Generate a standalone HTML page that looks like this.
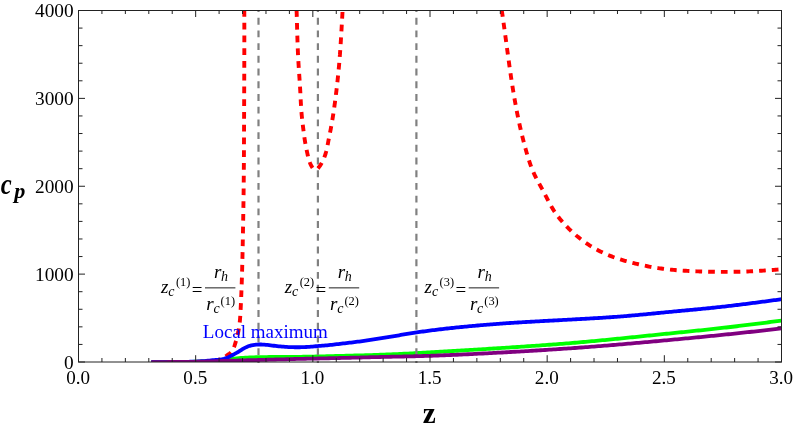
<!DOCTYPE html>
<html><head><meta charset="utf-8"><title>plot</title>
<style>
html,body{margin:0;padding:0;background:#fff;}
#c{will-change:transform;position:relative;width:793px;height:430px;overflow:hidden;background:#fff;font-family:"Liberation Serif",serif;}
.t text{font-family:"Liberation Serif",serif;}
</style></head><body><div id="c">
<svg width="793" height="430" viewBox="0 0 793 430" style="position:absolute;left:0;top:0"><defs><clipPath id="cp"><rect x="78.5" y="10.5" width="703.0" height="351.5"/></clipPath></defs><g clip-path="url(#cp)" fill="none" stroke-linejoin="round"><path d="M151.30,362.10 L153.44,362.08 L155.58,362.06 L157.73,362.04 L159.87,362.03 L162.01,362.03 L164.15,362.02 L166.29,362.02 L168.44,362.02 L170.58,362.01 L172.72,362.01 L174.87,362.00 L177.01,361.99 L179.15,361.98 L181.29,361.96 L183.44,361.94 L185.58,361.91 L187.72,361.88 L189.86,361.84 L192.00,361.79 L194.14,361.73 L196.29,361.66 L198.43,361.58 L200.57,361.49 L202.71,361.39 L204.85,361.29 L206.99,361.17 L209.13,361.05 L211.26,360.92 L213.40,360.79 L215.54,360.64 L217.68,360.48 L219.81,360.30 L221.95,360.11 L224.08,359.90 L226.21,359.66 L228.34,359.41 L230.46,359.15 L232.59,358.89 L234.72,358.64 L236.84,358.40 L238.98,358.19 L241.11,358.00 L243.24,357.84 L245.38,357.69 L247.52,357.57 L249.66,357.47 L251.80,357.38 L253.95,357.31 L256.09,357.25 L258.23,357.19 L260.38,357.15 L262.52,357.11 L264.66,357.07 L266.80,357.04 L268.95,357.01 L271.09,356.99 L273.23,356.97 L275.37,356.96 L277.52,356.94 L279.66,356.93 L281.80,356.92 L283.94,356.91 L286.08,356.90 L288.23,356.89 L290.37,356.88 L292.51,356.86 L294.65,356.85 L296.79,356.83 L298.93,356.81 L301.08,356.78 L303.22,356.75 L305.36,356.72 L307.50,356.68 L309.64,356.64 L311.79,356.60 L313.93,356.56 L316.07,356.51 L318.21,356.46 L320.35,356.41 L322.49,356.36 L324.64,356.30 L326.78,356.25 L328.92,356.19 L331.06,356.14 L333.20,356.08 L335.35,356.02 L337.49,355.97 L339.63,355.91 L341.77,355.85 L343.91,355.80 L346.05,355.74 L348.20,355.69 L350.34,355.63 L352.48,355.58 L354.62,355.52 L356.76,355.46 L358.90,355.41 L361.05,355.35 L363.19,355.29 L365.33,355.23 L367.47,355.17 L369.61,355.10 L371.75,355.04 L373.89,354.97 L376.04,354.90 L378.18,354.83 L380.32,354.76 L382.46,354.68 L384.60,354.60 L386.74,354.52 L388.88,354.43 L391.02,354.34 L393.16,354.25 L395.30,354.15 L397.44,354.05 L399.58,353.95 L401.72,353.85 L403.86,353.74 L406.00,353.64 L408.14,353.53 L410.28,353.41 L412.42,353.30 L414.56,353.19 L416.70,353.07 L418.84,352.96 L420.98,352.84 L423.12,352.72 L425.25,352.61 L427.39,352.49 L429.53,352.37 L431.67,352.25 L433.81,352.13 L435.95,352.01 L438.09,351.88 L440.23,351.76 L442.37,351.64 L444.50,351.51 L446.64,351.39 L448.78,351.26 L450.92,351.14 L453.06,351.01 L455.20,350.88 L457.34,350.75 L459.47,350.63 L461.61,350.50 L463.75,350.37 L465.89,350.24 L468.03,350.11 L470.17,349.97 L472.30,349.84 L474.44,349.71 L476.58,349.58 L478.72,349.45 L480.86,349.31 L483.00,349.18 L485.13,349.04 L487.27,348.91 L489.41,348.77 L491.55,348.64 L493.69,348.50 L495.82,348.37 L497.96,348.23 L500.10,348.09 L502.24,347.96 L504.38,347.82 L506.51,347.68 L508.65,347.54 L510.79,347.40 L512.93,347.26 L515.07,347.12 L517.20,346.98 L519.34,346.84 L521.48,346.70 L523.62,346.56 L525.75,346.41 L527.89,346.27 L530.03,346.12 L532.17,345.97 L534.30,345.83 L536.44,345.68 L538.58,345.53 L540.72,345.38 L542.85,345.22 L544.99,345.07 L547.13,344.91 L549.26,344.76 L551.40,344.60 L553.54,344.44 L555.67,344.27 L557.81,344.11 L559.94,343.95 L562.08,343.78 L564.22,343.61 L566.35,343.44 L568.49,343.27 L570.62,343.09 L572.76,342.92 L574.89,342.74 L577.03,342.56 L579.16,342.37 L581.29,342.19 L583.43,342.00 L585.56,341.81 L587.70,341.62 L589.83,341.42 L591.96,341.23 L594.10,341.03 L596.23,340.83 L598.36,340.63 L600.49,340.43 L602.63,340.22 L604.76,340.02 L606.89,339.81 L609.02,339.60 L611.15,339.39 L613.29,339.18 L615.42,338.97 L617.55,338.76 L619.68,338.54 L621.81,338.33 L623.94,338.11 L626.08,337.90 L628.21,337.68 L630.34,337.46 L632.47,337.25 L634.60,337.03 L636.73,336.81 L638.86,336.59 L641.00,336.37 L643.13,336.15 L645.26,335.93 L647.39,335.71 L649.52,335.49 L651.65,335.27 L653.78,335.05 L655.91,334.84 L658.05,334.62 L660.18,334.40 L662.31,334.18 L664.44,333.97 L666.57,333.75 L668.70,333.53 L670.83,333.32 L672.97,333.10 L675.10,332.89 L677.23,332.68 L679.36,332.46 L681.49,332.25 L683.62,332.03 L685.76,331.82 L687.89,331.60 L690.02,331.38 L692.15,331.17 L694.28,330.95 L696.41,330.73 L698.54,330.51 L700.67,330.29 L702.80,330.06 L704.93,329.84 L707.07,329.61 L709.20,329.39 L711.33,329.16 L713.46,328.92 L715.58,328.69 L717.71,328.46 L719.84,328.22 L721.97,327.98 L724.10,327.73 L726.23,327.49 L728.36,327.24 L730.48,326.99 L732.61,326.74 L734.74,326.49 L736.87,326.24 L738.99,325.98 L741.12,325.72 L743.25,325.46 L745.37,325.20 L747.50,324.94 L749.62,324.67 L751.75,324.41 L753.88,324.14 L756.00,323.87 L758.13,323.60 L760.25,323.33 L762.38,323.06 L764.50,322.79 L766.63,322.52 L768.75,322.25 L770.88,321.97 L773.00,321.70 L775.13,321.42 L777.25,321.15 L779.38,320.87 L781.50,320.60 L783.63,320.32 L785.75,320.05 L787.88,319.77 L790.00,319.50" stroke="#00ff00" stroke-width="3.8"/></g><g stroke="#808080" stroke-width="2.2" stroke-dasharray="6.9 5.81" stroke-dashoffset="4.81" fill="none"><path d="M258.5,363 L258.5,10.5"/><path d="M317.9,363 L317.9,10.5"/><path d="M416.4,363 L416.4,10.5"/></g><g clip-path="url(#cp)" fill="none" stroke-linejoin="round"><path d="M244.30,10.50 L244.30,11.72 L244.31,12.94 L244.31,14.16 L244.32,15.38 L244.32,16.60 L244.32,17.82 L244.32,19.04 L244.33,20.26 L244.33,21.48 L244.33,22.70 L244.33,23.92 L244.33,25.14 L244.34,26.36 L244.34,27.58 L244.34,28.80 L244.34,30.02 L244.34,31.24 L244.34,32.46 L244.34,33.68 L244.34,34.89 L244.34,36.11 L244.34,37.33 L244.34,38.55 L244.34,39.77 L244.33,40.99 L244.33,42.21 L244.33,43.43 L244.33,44.65 L244.33,45.87 L244.33,47.09 L244.33,48.31 L244.32,49.53 L244.32,50.75 L244.32,51.97 L244.32,53.19 L244.31,54.41 L244.31,55.63 L244.31,56.85 L244.30,58.07 L244.30,59.29 L244.30,60.51 L244.30,61.73 L244.29,62.95 L244.29,64.17 L244.28,65.39 L244.28,66.61 L244.28,67.83 L244.27,69.05 L244.27,70.27 L244.27,71.49 L244.26,72.71 L244.26,73.93 L244.25,75.15 L244.25,76.37 L244.25,77.59 L244.24,78.81 L244.24,80.03 L244.23,81.24 L244.23,82.46 L244.22,83.68 L244.22,84.90 L244.21,86.12 L244.21,87.34 L244.21,88.56 L244.20,89.78 L244.20,91.00 L244.19,92.22 L244.19,93.44 L244.18,94.66 L244.18,95.88 L244.17,97.10 L244.17,98.32 L244.16,99.54 L244.16,100.76 L244.16,101.98 L244.15,103.20 L244.15,104.42 L244.14,105.64 L244.14,106.86 L244.13,108.08 L244.13,109.30 L244.12,110.52 L244.12,111.74 L244.11,112.96 L244.11,114.18 L244.10,115.40 L244.10,116.62 L244.09,117.84 L244.09,119.06 L244.08,120.28 L244.08,121.50 L244.07,122.72 L244.07,123.94 L244.06,125.16 L244.06,126.37 L244.05,127.59 L244.05,128.81 L244.04,130.03 L244.04,131.25 L244.03,132.47 L244.03,133.69 L244.02,134.91 L244.02,136.13 L244.01,137.35 L244.01,138.57 L244.00,139.79 L244.00,141.01 L243.99,142.23 L243.98,143.45 L243.98,144.67 L243.97,145.89 L243.97,147.11 L243.96,148.33 L243.95,149.55 L243.95,150.77 L243.94,151.99 L243.94,153.21 L243.93,154.43 L243.92,155.65 L243.91,156.87 L243.91,158.09 L243.90,159.31 L243.89,160.53 L243.89,161.75 L243.88,162.97 L243.87,164.19 L243.86,165.41 L243.85,166.63 L243.84,167.85 L243.83,169.07 L243.83,170.29 L243.82,171.51 L243.81,172.73 L243.80,173.94 L243.79,175.16 L243.78,176.38 L243.77,177.60 L243.75,178.82 L243.74,180.04 L243.73,181.26 L243.72,182.48 L243.71,183.70 L243.69,184.92 L243.68,186.14 L243.67,187.36 L243.65,188.58 L243.64,189.80 L243.62,191.02 L243.61,192.24 L243.59,193.46 L243.58,194.68 L243.56,195.90 L243.55,197.12 L243.53,198.34 L243.51,199.56 L243.49,200.78 L243.48,202.00 L243.46,203.22 L243.44,204.44 L243.42,205.66 L243.40,206.87 L243.38,208.09 L243.36,209.31 L243.34,210.53 L243.32,211.75 L243.30,212.97 L243.28,214.19 L243.26,215.41 L243.24,216.63 L243.22,217.85 L243.20,219.07 L243.18,220.29 L243.15,221.51 L243.13,222.73 L243.11,223.95 L243.09,225.17 L243.07,226.39 L243.04,227.61 L243.02,228.83 L243.00,230.05 L242.98,231.27 L242.95,232.49 L242.93,233.71 L242.91,234.93 L242.89,236.15 L242.86,237.36 L242.84,238.58 L242.82,239.80 L242.79,241.02 L242.77,242.24 L242.75,243.46 L242.72,244.68 L242.70,245.90 L242.67,247.12 L242.65,248.34 L242.62,249.56 L242.60,250.78 L242.57,252.00 L242.54,253.22 L242.52,254.44 L242.49,255.66 L242.46,256.88 L242.43,258.10 L242.41,259.32 L242.38,260.54 L242.35,261.76 L242.32,262.98 L242.29,264.20 L242.25,265.41 L242.22,266.63 L242.19,267.85 L242.16,269.07 L242.12,270.29 L242.09,271.51 L242.06,272.73 L242.02,273.95 L241.98,275.17 L241.95,276.39 L241.91,277.61 L241.87,278.82 L241.83,280.04 L241.79,281.26 L241.75,282.48 L241.71,283.70 L241.67,284.92 L241.62,286.14 L241.58,287.35 L241.53,288.57 L241.49,289.79 L241.44,291.01 L241.39,292.23 L241.35,293.45 L241.30,294.67 L241.25,295.88 L241.20,297.10 L241.14,298.32 L241.09,299.54 L241.04,300.76 L240.98,301.98 L240.93,303.20 L240.87,304.41 L240.81,305.63 L240.76,306.85 L240.70,308.07 L240.64,309.29 L240.57,310.51 L240.51,311.73 L240.45,312.95 L240.38,314.17 L240.30,315.39 L240.22,316.60 L240.13,317.82 L240.04,319.04 L239.93,320.25 L239.81,321.47 L239.69,322.68 L239.54,323.89 L239.39,325.10 L239.22,326.31 L239.03,327.51 L238.83,328.71 L238.61,329.91 L238.39,331.11 L238.14,332.31 L237.89,333.51 L237.63,334.70 L237.35,335.89 L237.06,337.07 L236.76,338.26 L236.44,339.43 L236.11,340.60 L235.77,341.77 L235.42,342.93 L235.06,344.09 L234.68,345.26 L234.29,346.43 L233.87,347.60 L233.41,348.74 L232.87,349.84 L232.24,350.87 L231.49,351.81 L230.63,352.67 L229.69,353.46 L228.70,354.20 L227.69,354.91 L226.68,355.61 L225.66,356.27 L224.62,356.91 L223.57,357.52 L222.49,358.08 L221.39,358.61 L220.27,359.09 L219.13,359.53 L217.97,359.92 L216.79,360.27 L215.61,360.58 L214.41,360.83 L213.21,361.04 L212.00,361.20" stroke="#ff0000" stroke-width="3.9" stroke-dasharray="6.7 6.04" stroke-dashoffset="0.4"/><path d="M296.60,10.50 L296.62,11.03 L296.63,11.56 L296.65,12.09 L296.67,12.62 L296.68,13.15 L296.70,13.69 L296.72,14.22 L296.73,14.75 L296.75,15.28 L296.76,15.81 L296.78,16.34 L296.79,16.87 L296.81,17.40 L296.82,17.93 L296.84,18.46 L296.85,19.00 L296.87,19.53 L296.88,20.06 L296.90,20.59 L296.91,21.12 L296.93,21.65 L296.94,22.18 L296.96,22.71 L296.97,23.24 L296.99,23.78 L297.00,24.31 L297.02,24.84 L297.03,25.37 L297.04,25.90 L297.06,26.43 L297.07,26.96 L297.09,27.49 L297.10,28.03 L297.12,28.56 L297.13,29.09 L297.15,29.62 L297.16,30.15 L297.18,30.68 L297.19,31.21 L297.21,31.74 L297.22,32.27 L297.24,32.81 L297.25,33.34 L297.27,33.87 L297.28,34.40 L297.30,34.93 L297.31,35.46 L297.33,35.99 L297.35,36.52 L297.36,37.06 L297.38,37.59 L297.39,38.12 L297.41,38.65 L297.43,39.18 L297.44,39.71 L297.46,40.24 L297.48,40.77 L297.50,41.30 L297.51,41.84 L297.53,42.37 L297.55,42.90 L297.57,43.43 L297.59,43.96 L297.61,44.49 L297.63,45.02 L297.65,45.55 L297.66,46.08 L297.68,46.61 L297.71,47.15 L297.73,47.68 L297.75,48.21 L297.77,48.74 L297.79,49.27 L297.81,49.80 L297.83,50.33 L297.86,50.86 L297.88,51.39 L297.90,51.92 L297.92,52.45 L297.95,52.98 L297.97,53.52 L298.00,54.05 L298.02,54.58 L298.05,55.11 L298.07,55.64 L298.10,56.17 L298.13,56.70 L298.15,57.23 L298.18,57.76 L298.21,58.29 L298.24,58.82 L298.26,59.35 L298.29,59.88 L298.32,60.41 L298.35,60.94 L298.38,61.47 L298.41,62.00 L298.45,62.53 L298.48,63.06 L298.51,63.59 L298.54,64.13 L298.57,64.66 L298.61,65.19 L298.64,65.72 L298.67,66.25 L298.71,66.78 L298.74,67.31 L298.78,67.84 L298.81,68.37 L298.84,68.90 L298.88,69.43 L298.91,69.96 L298.95,70.49 L298.99,71.02 L299.02,71.55 L299.06,72.08 L299.09,72.61 L299.13,73.14 L299.16,73.67 L299.20,74.20 L299.23,74.73 L299.27,75.26 L299.31,75.79 L299.34,76.32 L299.38,76.85 L299.41,77.38 L299.45,77.91 L299.48,78.44 L299.52,78.97 L299.55,79.50 L299.59,80.03 L299.62,80.56 L299.66,81.09 L299.69,81.62 L299.73,82.15 L299.76,82.68 L299.80,83.21 L299.83,83.74 L299.86,84.27 L299.90,84.80 L299.93,85.33 L299.96,85.86 L299.99,86.39 L300.02,86.92 L300.06,87.45 L300.09,87.98 L300.12,88.52 L300.15,89.05 L300.18,89.58 L300.21,90.11 L300.23,90.64 L300.26,91.17 L300.29,91.70 L300.32,92.23 L300.35,92.76 L300.37,93.29 L300.40,93.82 L300.43,94.35 L300.45,94.88 L300.48,95.42 L300.50,95.95 L300.53,96.48 L300.56,97.01 L300.58,97.54 L300.61,98.07 L300.64,98.60 L300.66,99.13 L300.69,99.66 L300.72,100.19 L300.74,100.72 L300.77,101.25 L300.80,101.79 L300.83,102.32 L300.85,102.85 L300.88,103.38 L300.91,103.91 L300.94,104.44 L300.97,104.97 L301.00,105.50 L301.04,106.03 L301.07,106.56 L301.10,107.09 L301.14,107.62 L301.17,108.15 L301.21,108.68 L301.24,109.21 L301.28,109.74 L301.32,110.27 L301.36,110.80 L301.40,111.33 L301.44,111.86 L301.48,112.39 L301.53,112.92 L301.57,113.45 L301.62,113.98 L301.66,114.50 L301.71,115.03 L301.76,115.56 L301.81,116.09 L301.87,116.62 L301.92,117.15 L301.97,117.68 L302.03,118.20 L302.09,118.73 L302.14,119.26 L302.20,119.79 L302.26,120.32 L302.32,120.84 L302.38,121.37 L302.44,121.90 L302.50,122.43 L302.56,122.96 L302.63,123.48 L302.69,124.01 L302.75,124.54 L302.82,125.07 L302.88,125.59 L302.94,126.12 L303.01,126.65 L303.07,127.18 L303.14,127.71 L303.20,128.23 L303.27,128.76 L303.33,129.29 L303.39,129.82 L303.46,130.34 L303.52,130.87 L303.59,131.40 L303.66,131.93 L303.72,132.46 L303.79,132.98 L303.86,133.51 L303.93,134.04 L304.00,134.56 L304.07,135.09 L304.14,135.62 L304.21,136.14 L304.28,136.67 L304.36,137.20 L304.44,137.72 L304.51,138.25 L304.59,138.77 L304.67,139.29 L304.76,139.82 L304.84,140.34 L304.92,140.87 L305.01,141.39 L305.10,141.91 L305.19,142.43 L305.28,142.96 L305.37,143.48 L305.47,144.00 L305.56,144.52 L305.66,145.04 L305.76,145.56 L305.86,146.08 L305.96,146.60 L306.06,147.13 L306.16,147.65 L306.27,148.17 L306.37,148.69 L306.48,149.21 L306.58,149.73 L306.69,150.25 L306.80,150.78 L306.91,151.30 L307.02,151.82 L307.13,152.34 L307.24,152.87 L307.35,153.39 L307.46,153.92 L307.57,154.44 L307.69,154.96 L307.81,155.49 L307.93,156.01 L308.05,156.53 L308.18,157.05 L308.31,157.57 L308.44,158.09 L308.58,158.60 L308.72,159.11 L308.87,159.63 L309.03,160.14 L309.19,160.64 L309.36,161.15 L309.53,161.65 L309.71,162.14 L309.90,162.64 L310.10,163.13 L310.31,163.62 L310.52,164.10 L310.74,164.58 L310.98,165.05 L311.22,165.52 L311.47,165.99 L311.74,166.45 L312.01,166.91 L312.30,167.36 L312.60,167.80" stroke="#ff0000" stroke-width="3.9" stroke-dasharray="6.7 6.04" stroke-dashoffset="0.3"/><path d="M342.60,10.50 L342.57,11.04 L342.54,11.58 L342.51,12.12 L342.47,12.65 L342.44,13.19 L342.41,13.73 L342.38,14.27 L342.35,14.81 L342.32,15.35 L342.29,15.88 L342.26,16.42 L342.23,16.96 L342.20,17.50 L342.16,18.04 L342.13,18.58 L342.10,19.12 L342.07,19.65 L342.04,20.19 L342.01,20.73 L341.98,21.27 L341.95,21.81 L341.92,22.35 L341.89,22.89 L341.86,23.42 L341.83,23.96 L341.80,24.50 L341.77,25.04 L341.74,25.58 L341.71,26.12 L341.68,26.66 L341.65,27.19 L341.62,27.73 L341.59,28.27 L341.56,28.81 L341.53,29.35 L341.50,29.89 L341.47,30.43 L341.43,30.96 L341.40,31.50 L341.37,32.04 L341.34,32.58 L341.31,33.12 L341.28,33.66 L341.25,34.20 L341.22,34.73 L341.18,35.27 L341.15,35.81 L341.12,36.35 L341.09,36.89 L341.06,37.43 L341.02,37.97 L340.99,38.50 L340.96,39.04 L340.93,39.58 L340.89,40.12 L340.86,40.66 L340.83,41.20 L340.79,41.73 L340.76,42.27 L340.72,42.81 L340.69,43.35 L340.66,43.89 L340.62,44.43 L340.59,44.96 L340.55,45.50 L340.52,46.04 L340.48,46.58 L340.45,47.12 L340.41,47.66 L340.37,48.19 L340.34,48.73 L340.30,49.27 L340.26,49.81 L340.22,50.35 L340.19,50.88 L340.15,51.42 L340.11,51.96 L340.07,52.50 L340.03,53.04 L339.99,53.57 L339.95,54.11 L339.92,54.65 L339.87,55.19 L339.83,55.73 L339.79,56.26 L339.75,56.80 L339.71,57.34 L339.67,57.88 L339.63,58.42 L339.58,58.95 L339.54,59.49 L339.50,60.03 L339.45,60.57 L339.41,61.10 L339.37,61.64 L339.32,62.18 L339.27,62.72 L339.23,63.25 L339.18,63.79 L339.14,64.33 L339.09,64.87 L339.04,65.40 L339.00,65.94 L338.95,66.48 L338.90,67.02 L338.85,67.55 L338.80,68.09 L338.75,68.63 L338.70,69.16 L338.65,69.70 L338.60,70.24 L338.55,70.78 L338.50,71.31 L338.45,71.85 L338.40,72.39 L338.34,72.92 L338.29,73.46 L338.24,74.00 L338.18,74.53 L338.13,75.07 L338.08,75.61 L338.02,76.14 L337.97,76.68 L337.91,77.22 L337.86,77.75 L337.80,78.29 L337.74,78.83 L337.69,79.36 L337.63,79.90 L337.57,80.44 L337.52,80.97 L337.46,81.51 L337.40,82.05 L337.34,82.58 L337.28,83.12 L337.22,83.65 L337.17,84.19 L337.11,84.73 L337.05,85.26 L336.98,85.80 L336.92,86.33 L336.86,86.87 L336.80,87.41 L336.74,87.94 L336.68,88.48 L336.62,89.01 L336.55,89.55 L336.49,90.09 L336.43,90.62 L336.36,91.16 L336.30,91.69 L336.23,92.23 L336.17,92.76 L336.11,93.30 L336.04,93.84 L335.97,94.37 L335.91,94.91 L335.84,95.44 L335.78,95.98 L335.71,96.51 L335.64,97.05 L335.57,97.58 L335.51,98.12 L335.44,98.65 L335.37,99.19 L335.30,99.72 L335.23,100.26 L335.16,100.79 L335.09,101.33 L335.02,101.86 L334.95,102.40 L334.88,102.93 L334.80,103.47 L334.73,104.00 L334.66,104.54 L334.58,105.07 L334.51,105.60 L334.44,106.14 L334.36,106.67 L334.29,107.21 L334.21,107.74 L334.13,108.27 L334.06,108.81 L333.98,109.34 L333.90,109.88 L333.83,110.41 L333.75,110.94 L333.67,111.48 L333.59,112.01 L333.51,112.54 L333.43,113.08 L333.35,113.61 L333.27,114.14 L333.18,114.68 L333.10,115.21 L333.02,115.74 L332.94,116.28 L332.85,116.81 L332.77,117.34 L332.68,117.88 L332.60,118.41 L332.51,118.94 L332.42,119.47 L332.33,120.01 L332.25,120.54 L332.16,121.07 L332.07,121.60 L331.98,122.13 L331.89,122.67 L331.80,123.20 L331.70,123.73 L331.61,124.26 L331.52,124.79 L331.42,125.32 L331.33,125.85 L331.23,126.38 L331.13,126.91 L331.04,127.44 L330.94,127.98 L330.84,128.51 L330.74,129.04 L330.64,129.56 L330.53,130.09 L330.43,130.62 L330.33,131.15 L330.22,131.68 L330.12,132.21 L330.01,132.74 L329.91,133.27 L329.80,133.80 L329.70,134.33 L329.59,134.86 L329.49,135.39 L329.38,135.91 L329.27,136.44 L329.17,136.97 L329.06,137.50 L328.96,138.03 L328.85,138.56 L328.75,139.09 L328.65,139.62 L328.54,140.15 L328.44,140.68 L328.34,141.21 L328.24,141.74 L328.14,142.27 L328.04,142.80 L327.94,143.33 L327.84,143.86 L327.74,144.39 L327.64,144.92 L327.53,145.45 L327.43,145.98 L327.32,146.51 L327.21,147.04 L327.10,147.56 L326.99,148.09 L326.88,148.62 L326.76,149.15 L326.64,149.67 L326.51,150.20 L326.39,150.72 L326.25,151.24 L326.12,151.77 L325.98,152.29 L325.83,152.81 L325.68,153.33 L325.53,153.84 L325.37,154.36 L325.20,154.88 L325.03,155.39 L324.85,155.90 L324.67,156.41 L324.48,156.92 L324.29,157.43 L324.09,157.93 L323.88,158.43 L323.67,158.93 L323.45,159.43 L323.23,159.92 L323.00,160.42 L322.77,160.90 L322.53,161.39 L322.28,161.87 L322.03,162.35 L321.77,162.82 L321.50,163.29 L321.23,163.76 L320.95,164.22 L320.67,164.68 L320.37,165.14 L320.08,165.59 L319.77,166.03 L319.46,166.47 L319.14,166.91 L318.82,167.34 L318.48,167.76 L318.15,168.19 L317.80,168.60" stroke="#ff0000" stroke-width="3.9" stroke-dasharray="6.7 6.04" stroke-dashoffset="11.23"/><path d="M501.80,10.50 L502.02,12.02 L502.25,13.55 L502.47,15.07 L502.69,16.60 L502.90,18.12 L503.12,19.65 L503.33,21.18 L503.55,22.71 L503.76,24.23 L503.97,25.76 L504.18,27.29 L504.39,28.82 L504.60,30.36 L504.81,31.89 L505.02,33.42 L505.23,34.95 L505.43,36.49 L505.64,38.02 L505.85,39.55 L506.05,41.09 L506.26,42.62 L506.46,44.16 L506.67,45.69 L506.88,47.23 L507.08,48.77 L507.29,50.30 L507.50,51.84 L507.71,53.37 L507.92,54.91 L508.12,56.45 L508.33,57.98 L508.55,59.52 L508.76,61.06 L508.97,62.59 L509.19,64.13 L509.40,65.67 L509.62,67.20 L509.84,68.74 L510.06,70.27 L510.28,71.81 L510.50,73.34 L510.73,74.88 L510.95,76.42 L511.18,77.95 L511.41,79.48 L511.64,81.02 L511.88,82.55 L512.12,84.08 L512.36,85.62 L512.60,87.15 L512.84,88.68 L513.09,90.21 L513.34,91.74 L513.59,93.27 L513.85,94.80 L514.11,96.33 L514.37,97.86 L514.63,99.39 L514.90,100.91 L515.17,102.44 L515.45,103.96 L515.73,105.49 L516.01,107.01 L516.29,108.54 L516.58,110.06 L516.88,111.58 L517.17,113.10 L517.48,114.62 L517.78,116.13 L518.09,117.65 L518.40,119.17 L518.72,120.68 L519.05,122.20 L519.37,123.71 L519.70,125.22 L520.04,126.73 L520.38,128.24 L520.73,129.75 L521.08,131.25 L521.43,132.76 L521.80,134.26 L522.16,135.77 L522.53,137.27 L522.91,138.77 L523.29,140.27 L523.67,141.77 L524.07,143.27 L524.46,144.77 L524.86,146.27 L525.27,147.76 L525.68,149.26 L526.10,150.76 L526.52,152.25 L526.95,153.74 L527.39,155.23 L527.84,156.72 L528.29,158.21 L528.76,159.69 L529.24,161.17 L529.73,162.64 L530.24,164.11 L530.76,165.57 L531.30,167.02 L531.85,168.46 L532.43,169.90 L533.02,171.33 L533.64,172.75 L534.27,174.16 L534.93,175.55 L535.61,176.94 L536.31,178.32 L537.03,179.69 L537.77,181.05 L538.51,182.41 L539.26,183.76 L540.01,185.12 L540.77,186.47 L541.52,187.83 L542.26,189.19 L543.00,190.56 L543.72,191.93 L544.43,193.31 L545.14,194.69 L545.84,196.07 L546.55,197.45 L547.25,198.83 L547.96,200.21 L548.68,201.58 L549.40,202.95 L550.14,204.31 L550.89,205.66 L551.66,207.00 L552.45,208.33 L553.26,209.65 L554.10,210.95 L554.96,212.24 L555.84,213.51 L556.74,214.77 L557.66,216.02 L558.60,217.25 L559.56,218.47 L560.54,219.68 L561.53,220.87 L562.55,222.05 L563.57,223.21 L564.62,224.37 L565.68,225.50 L566.75,226.63 L567.84,227.74 L568.94,228.84 L570.05,229.92 L571.18,230.99 L572.31,232.05 L573.46,233.09 L574.62,234.11 L575.80,235.13 L576.98,236.13 L578.18,237.11 L579.39,238.08 L580.61,239.03 L581.85,239.97 L583.09,240.89 L584.35,241.80 L585.62,242.69 L586.90,243.57 L588.19,244.43 L589.49,245.27 L590.80,246.10 L592.13,246.91 L593.46,247.70 L594.80,248.48 L596.16,249.24 L597.52,249.98 L598.89,250.71 L600.27,251.41 L601.66,252.10 L603.06,252.78 L604.47,253.43 L605.88,254.07 L607.30,254.69 L608.73,255.29 L610.17,255.87 L611.61,256.43 L613.06,256.98 L614.52,257.51 L615.98,258.02 L617.44,258.52 L618.91,259.00 L620.39,259.47 L621.87,259.92 L623.36,260.37 L624.85,260.80 L626.34,261.22 L627.83,261.63 L629.33,262.03 L630.83,262.42 L632.34,262.81 L633.84,263.18 L635.35,263.55 L636.85,263.92 L638.36,264.27 L639.87,264.62 L641.38,264.96 L642.90,265.29 L644.41,265.62 L645.93,265.93 L647.45,266.24 L648.97,266.54 L650.49,266.82 L652.01,267.10 L653.54,267.37 L655.06,267.63 L656.59,267.88 L658.12,268.11 L659.65,268.34 L661.18,268.55 L662.72,268.76 L664.26,268.95 L665.79,269.14 L667.33,269.31 L668.87,269.48 L670.41,269.64 L671.95,269.78 L673.50,269.93 L675.04,270.06 L676.58,270.19 L678.13,270.31 L679.67,270.42 L681.22,270.53 L682.77,270.63 L684.31,270.73 L685.86,270.82 L687.41,270.90 L688.95,270.99 L690.50,271.06 L692.05,271.14 L693.59,271.21 L695.14,271.27 L696.69,271.33 L698.23,271.39 L699.78,271.44 L701.33,271.49 L702.88,271.54 L704.43,271.58 L705.97,271.62 L707.52,271.66 L709.07,271.70 L710.62,271.73 L712.17,271.76 L713.71,271.79 L715.26,271.81 L716.81,271.83 L718.36,271.85 L719.91,271.86 L721.46,271.87 L723.00,271.88 L724.55,271.88 L726.10,271.88 L727.65,271.88 L729.20,271.87 L730.75,271.86 L732.30,271.84 L733.84,271.82 L735.39,271.79 L736.94,271.76 L738.49,271.73 L740.04,271.69 L741.58,271.65 L743.13,271.60 L744.68,271.55 L746.23,271.49 L747.78,271.43 L749.32,271.36 L750.87,271.29 L752.42,271.22 L753.96,271.14 L755.51,271.06 L757.06,270.97 L758.60,270.88 L760.15,270.79 L761.69,270.69 L763.24,270.59 L764.78,270.49 L766.33,270.38 L767.87,270.27 L769.42,270.16 L770.96,270.05 L772.51,269.94 L774.05,269.83 L775.59,269.72 L777.14,269.61 L778.68,269.50 L780.23,269.39 L781.77,269.28 L783.32,269.18 L784.86,269.08 L786.41,268.98 L787.95,268.89 L789.50,268.80" stroke="#ff0000" stroke-width="3.9" stroke-dasharray="6.7 6.04" stroke-dashoffset="0.41"/><path d="M151.30,362.10 L152.92,362.08 L154.53,362.07 L156.15,362.06 L157.76,362.05 L159.38,362.05 L161.00,362.04 L162.61,362.04 L164.23,362.03 L165.85,362.03 L167.46,362.03 L169.08,362.02 L170.70,362.02 L172.31,362.01 L173.93,362.01 L175.55,362.00 L177.16,361.99 L178.78,361.97 L180.40,361.95 L182.01,361.93 L183.63,361.91 L185.25,361.88 L186.86,361.85 L188.48,361.81 L190.09,361.77 L191.71,361.72 L193.33,361.66 L194.94,361.60 L196.56,361.53 L198.17,361.46 L199.78,361.37 L201.40,361.27 L203.01,361.16 L204.62,361.03 L206.23,360.89 L207.84,360.73 L209.45,360.56 L211.06,360.40 L212.66,360.23 L214.27,360.08 L215.88,359.93 L217.49,359.78 L219.11,359.62 L220.72,359.45 L222.33,359.22 L223.91,358.89 L225.45,358.43 L226.95,357.84 L228.42,357.17 L229.87,356.43 L231.32,355.68 L232.76,354.94 L234.19,354.19 L235.60,353.41 L237.00,352.62 L238.38,351.78 L239.75,350.92 L241.11,350.05 L242.49,349.20 L243.89,348.38 L245.32,347.61 L246.79,346.92 L248.28,346.31 L249.82,345.80 L251.38,345.39 L252.97,345.09 L254.57,344.86 L256.19,344.69 L257.80,344.57 L259.42,344.50 L261.03,344.49 L262.65,344.53 L264.26,344.64 L265.87,344.79 L267.48,344.96 L269.09,345.16 L270.69,345.36 L272.29,345.56 L273.90,345.76 L275.50,345.95 L277.11,346.13 L278.72,346.30 L280.33,346.45 L281.94,346.60 L283.55,346.73 L285.16,346.85 L286.77,346.95 L288.39,347.04 L290.00,347.11 L291.62,347.17 L293.24,347.21 L294.85,347.24 L296.47,347.25 L298.09,347.25 L299.70,347.23 L301.32,347.20 L302.93,347.15 L304.55,347.08 L306.16,347.00 L307.78,346.89 L309.39,346.78 L311.00,346.66 L312.61,346.53 L314.22,346.40 L315.83,346.26 L317.44,346.12 L319.06,345.98 L320.67,345.85 L322.28,345.71 L323.89,345.57 L325.50,345.42 L327.11,345.27 L328.71,345.11 L330.32,344.94 L331.93,344.77 L333.54,344.59 L335.14,344.41 L336.75,344.23 L338.35,344.04 L339.96,343.85 L341.57,343.66 L343.17,343.48 L344.78,343.29 L346.38,343.10 L347.99,342.91 L349.59,342.72 L351.20,342.52 L352.80,342.32 L354.41,342.12 L356.01,341.92 L357.61,341.72 L359.22,341.51 L360.82,341.29 L362.42,341.08 L364.02,340.86 L365.62,340.63 L367.22,340.40 L368.82,340.17 L370.42,339.94 L372.02,339.70 L373.62,339.45 L375.22,339.21 L376.81,338.96 L378.41,338.71 L380.01,338.45 L381.60,338.19 L383.20,337.93 L384.79,337.67 L386.39,337.40 L387.98,337.14 L389.58,336.87 L391.17,336.60 L392.76,336.33 L394.36,336.06 L395.95,335.80 L397.55,335.53 L399.14,335.26 L400.73,334.99 L402.33,334.72 L403.92,334.46 L405.52,334.19 L407.11,333.93 L408.71,333.67 L410.30,333.42 L411.90,333.16 L413.50,332.91 L415.10,332.67 L416.69,332.43 L418.29,332.19 L419.89,331.95 L421.49,331.72 L423.09,331.50 L424.69,331.28 L426.30,331.06 L427.90,330.84 L429.50,330.63 L431.10,330.42 L432.71,330.22 L434.31,330.02 L435.92,329.82 L437.52,329.62 L439.13,329.43 L440.73,329.24 L442.34,329.06 L443.94,328.87 L445.55,328.69 L447.16,328.51 L448.76,328.33 L450.37,328.16 L451.98,327.99 L453.59,327.82 L455.19,327.65 L456.80,327.48 L458.41,327.32 L460.02,327.16 L461.63,327.00 L463.24,326.84 L464.84,326.68 L466.45,326.53 L468.06,326.38 L469.67,326.23 L471.28,326.08 L472.89,325.93 L474.50,325.78 L476.11,325.64 L477.72,325.50 L479.33,325.36 L480.94,325.22 L482.55,325.08 L484.16,324.95 L485.78,324.81 L487.39,324.68 L489.00,324.55 L490.61,324.42 L492.22,324.29 L493.83,324.17 L495.44,324.04 L497.06,323.92 L498.67,323.80 L500.28,323.68 L501.89,323.56 L503.50,323.45 L505.12,323.33 L506.73,323.22 L508.34,323.11 L509.96,323.00 L511.57,322.90 L513.18,322.79 L514.79,322.69 L516.41,322.59 L518.02,322.49 L519.63,322.39 L521.25,322.29 L522.86,322.20 L524.48,322.10 L526.09,322.01 L527.70,321.91 L529.32,321.82 L530.93,321.73 L532.54,321.64 L534.16,321.55 L535.77,321.46 L537.39,321.37 L539.00,321.28 L540.62,321.19 L542.23,321.11 L543.84,321.02 L545.46,320.93 L547.07,320.84 L548.69,320.75 L550.30,320.67 L551.91,320.58 L553.53,320.49 L555.14,320.40 L556.76,320.31 L558.37,320.23 L559.98,320.14 L561.60,320.05 L563.21,319.97 L564.83,319.88 L566.44,319.79 L568.05,319.70 L569.67,319.62 L571.28,319.53 L572.90,319.44 L574.51,319.36 L576.13,319.27 L577.74,319.18 L579.35,319.09 L580.97,319.01 L582.58,318.92 L584.20,318.83 L585.81,318.74 L587.42,318.65 L589.04,318.55 L590.65,318.46 L592.27,318.37 L593.88,318.27 L595.49,318.18 L597.11,318.08 L598.72,317.98 L600.33,317.88 L601.95,317.78 L603.56,317.67 L605.17,317.57 L606.79,317.46 L608.40,317.35 L610.01,317.24 L611.62,317.13 L613.24,317.02 L614.85,316.90 L616.46,316.78 L618.07,316.66 L619.69,316.54 L621.30,316.41 L622.91,316.29 L624.52,316.16 L626.13,316.03 L627.74,315.89 L629.35,315.76 L630.96,315.62 L632.57,315.47 L634.18,315.33 L635.79,315.18 L637.40,315.04 L639.01,314.89 L640.62,314.73 L642.23,314.58 L643.84,314.43 L645.45,314.27 L647.06,314.12 L648.67,313.96 L650.28,313.80 L651.88,313.64 L653.49,313.49 L655.10,313.33 L656.71,313.17 L658.32,313.01 L659.93,312.86 L661.54,312.70 L663.15,312.54 L664.76,312.39 L666.36,312.23 L667.97,312.08 L669.58,311.93 L671.19,311.77 L672.80,311.62 L674.41,311.47 L676.02,311.32 L677.63,311.17 L679.24,311.01 L680.85,310.86 L682.46,310.71 L684.07,310.56 L685.68,310.41 L687.29,310.26 L688.89,310.10 L690.50,309.95 L692.11,309.80 L693.72,309.65 L695.33,309.49 L696.94,309.34 L698.55,309.19 L700.16,309.03 L701.77,308.87 L703.38,308.72 L704.99,308.56 L706.59,308.40 L708.20,308.24 L709.81,308.07 L711.42,307.91 L713.03,307.74 L714.63,307.57 L716.24,307.41 L717.85,307.23 L719.46,307.06 L721.06,306.88 L722.67,306.70 L724.28,306.52 L725.88,306.34 L727.49,306.16 L729.09,305.97 L730.70,305.78 L732.30,305.59 L733.91,305.40 L735.51,305.21 L737.12,305.01 L738.72,304.82 L740.33,304.62 L741.93,304.42 L743.54,304.22 L745.14,304.02 L746.74,303.81 L748.35,303.61 L749.95,303.41 L751.55,303.20 L753.16,302.99 L754.76,302.79 L756.36,302.58 L757.97,302.37 L759.57,302.16 L761.17,301.95 L762.78,301.74 L764.38,301.53 L765.98,301.32 L767.58,301.10 L769.18,300.89 L770.79,300.67 L772.39,300.45 L773.99,300.24 L775.59,300.02 L777.19,299.80 L778.79,299.58 L780.40,299.35 L782.00,299.13 L783.60,298.91 L785.20,298.68 L786.80,298.46 L788.40,298.23 L790.00,298.00" stroke="#0000ff" stroke-width="3.8"/><path d="M151.30,362.10 L153.44,362.08 L155.58,362.07 L157.72,362.06 L159.86,362.05 L162.00,362.04 L164.14,362.03 L166.28,362.03 L168.42,362.02 L170.56,362.01 L172.70,362.01 L174.84,362.00 L176.99,361.99 L179.13,361.98 L181.27,361.97 L183.41,361.95 L185.55,361.93 L187.69,361.91 L189.83,361.88 L191.97,361.85 L194.11,361.82 L196.25,361.77 L198.39,361.73 L200.53,361.68 L202.67,361.62 L204.81,361.56 L206.95,361.50 L209.09,361.43 L211.22,361.36 L213.36,361.29 L215.50,361.22 L217.64,361.14 L219.78,361.07 L221.92,361.00 L224.06,360.93 L226.20,360.86 L228.34,360.80 L230.48,360.73 L232.62,360.67 L234.76,360.61 L236.90,360.55 L239.04,360.49 L241.18,360.43 L243.32,360.38 L245.46,360.32 L247.60,360.26 L249.74,360.21 L251.87,360.15 L254.01,360.09 L256.15,360.04 L258.29,359.98 L260.43,359.92 L262.57,359.86 L264.71,359.80 L266.85,359.75 L268.99,359.69 L271.13,359.63 L273.27,359.57 L275.41,359.52 L277.55,359.46 L279.69,359.40 L281.83,359.35 L283.97,359.29 L286.11,359.24 L288.25,359.18 L290.39,359.13 L292.53,359.07 L294.67,359.02 L296.81,358.97 L298.95,358.92 L301.09,358.86 L303.23,358.82 L305.37,358.77 L307.51,358.72 L309.65,358.67 L311.79,358.62 L313.93,358.58 L316.07,358.53 L318.21,358.48 L320.35,358.44 L322.49,358.39 L324.63,358.34 L326.77,358.30 L328.91,358.25 L331.05,358.20 L333.19,358.15 L335.33,358.11 L337.47,358.06 L339.61,358.01 L341.75,357.96 L343.89,357.91 L346.03,357.86 L348.17,357.81 L350.31,357.75 L352.44,357.70 L354.58,357.65 L356.72,357.59 L358.86,357.54 L361.00,357.49 L363.14,357.43 L365.28,357.38 L367.42,357.33 L369.56,357.27 L371.70,357.22 L373.84,357.17 L375.98,357.12 L378.12,357.07 L380.26,357.01 L382.40,356.96 L384.54,356.91 L386.68,356.87 L388.82,356.82 L390.96,356.77 L393.10,356.72 L395.24,356.68 L397.38,356.63 L399.52,356.59 L401.66,356.54 L403.80,356.49 L405.94,356.45 L408.08,356.40 L410.22,356.35 L412.36,356.30 L414.50,356.24 L416.64,356.19 L418.78,356.13 L420.92,356.07 L423.06,356.01 L425.20,355.94 L427.34,355.88 L429.48,355.81 L431.62,355.74 L433.75,355.66 L435.89,355.59 L438.03,355.51 L440.17,355.43 L442.31,355.35 L444.45,355.26 L446.59,355.18 L448.73,355.09 L450.87,355.00 L453.00,354.91 L455.14,354.82 L457.28,354.73 L459.42,354.63 L461.56,354.54 L463.70,354.44 L465.83,354.34 L467.97,354.24 L470.11,354.14 L472.25,354.03 L474.39,353.93 L476.52,353.82 L478.66,353.72 L480.80,353.61 L482.94,353.50 L485.08,353.39 L487.21,353.28 L489.35,353.17 L491.49,353.06 L493.63,352.94 L495.76,352.83 L497.90,352.71 L500.04,352.60 L502.18,352.48 L504.31,352.36 L506.45,352.25 L508.59,352.13 L510.73,352.01 L512.86,351.89 L515.00,351.77 L517.14,351.65 L519.27,351.53 L521.41,351.40 L523.55,351.28 L525.69,351.15 L527.82,351.03 L529.96,350.90 L532.10,350.77 L534.23,350.64 L536.37,350.51 L538.51,350.38 L540.64,350.25 L542.78,350.12 L544.91,349.98 L547.05,349.85 L549.19,349.71 L551.32,349.57 L553.46,349.44 L555.59,349.30 L557.73,349.15 L559.87,349.01 L562.00,348.87 L564.14,348.72 L566.27,348.58 L568.41,348.43 L570.54,348.28 L572.68,348.13 L574.81,347.98 L576.95,347.82 L579.08,347.67 L581.22,347.51 L583.35,347.35 L585.49,347.19 L587.62,347.03 L589.75,346.87 L591.89,346.70 L594.02,346.54 L596.16,346.37 L598.29,346.20 L600.42,346.04 L602.56,345.86 L604.69,345.69 L606.82,345.52 L608.96,345.35 L611.09,345.17 L613.22,344.99 L615.36,344.82 L617.49,344.64 L619.62,344.46 L621.76,344.28 L623.89,344.09 L626.02,343.91 L628.15,343.73 L630.29,343.54 L632.42,343.36 L634.55,343.17 L636.68,342.98 L638.82,342.79 L640.95,342.60 L643.08,342.41 L645.21,342.22 L647.34,342.03 L649.47,341.84 L651.61,341.64 L653.74,341.45 L655.87,341.26 L658.00,341.06 L660.13,340.87 L662.26,340.67 L664.40,340.47 L666.53,340.28 L668.66,340.08 L670.79,339.88 L672.92,339.68 L675.05,339.48 L677.18,339.28 L679.31,339.08 L681.45,338.88 L683.58,338.68 L685.71,338.47 L687.84,338.27 L689.97,338.07 L692.10,337.86 L694.23,337.66 L696.36,337.45 L698.49,337.24 L700.62,337.03 L702.75,336.82 L704.88,336.61 L707.01,336.40 L709.14,336.19 L711.27,335.98 L713.40,335.77 L715.53,335.55 L717.66,335.34 L719.79,335.12 L721.92,334.90 L724.05,334.69 L726.18,334.47 L728.31,334.25 L730.44,334.03 L732.56,333.80 L734.69,333.58 L736.82,333.36 L738.95,333.13 L741.08,332.90 L743.21,332.68 L745.34,332.45 L747.46,332.22 L749.59,331.99 L751.72,331.76 L753.85,331.53 L755.97,331.29 L758.10,331.06 L760.23,330.82 L762.36,330.58 L764.48,330.35 L766.61,330.11 L768.74,329.87 L770.86,329.62 L772.99,329.38 L775.12,329.14 L777.24,328.89 L779.37,328.65 L781.50,328.40 L783.62,328.15 L785.75,327.90 L787.87,327.65 L790.00,327.40" stroke="#800080" stroke-width="3.8"/></g><g stroke="#222" stroke-width="1" fill="none"><rect x="78.5" y="10.5" width="703.0" height="351.5"/><path d="M78.50,362.0 v-6.8 M78.50,10.5 v6.5 M101.93,362.0 v-4.0 M101.93,10.5 v3.5 M125.37,362.0 v-4.0 M125.37,10.5 v3.5 M148.80,362.0 v-4.0 M148.80,10.5 v3.5 M172.23,362.0 v-4.0 M172.23,10.5 v3.5 M195.67,362.0 v-6.8 M195.67,10.5 v6.5 M219.10,362.0 v-4.0 M219.10,10.5 v3.5 M242.53,362.0 v-4.0 M242.53,10.5 v3.5 M265.97,362.0 v-4.0 M265.97,10.5 v3.5 M289.40,362.0 v-4.0 M289.40,10.5 v3.5 M312.83,362.0 v-6.8 M312.83,10.5 v6.5 M336.27,362.0 v-4.0 M336.27,10.5 v3.5 M359.70,362.0 v-4.0 M359.70,10.5 v3.5 M383.13,362.0 v-4.0 M383.13,10.5 v3.5 M406.57,362.0 v-4.0 M406.57,10.5 v3.5 M430.00,362.0 v-6.8 M430.00,10.5 v6.5 M453.43,362.0 v-4.0 M453.43,10.5 v3.5 M476.87,362.0 v-4.0 M476.87,10.5 v3.5 M500.30,362.0 v-4.0 M500.30,10.5 v3.5 M523.73,362.0 v-4.0 M523.73,10.5 v3.5 M547.17,362.0 v-6.8 M547.17,10.5 v6.5 M570.60,362.0 v-4.0 M570.60,10.5 v3.5 M594.03,362.0 v-4.0 M594.03,10.5 v3.5 M617.47,362.0 v-4.0 M617.47,10.5 v3.5 M640.90,362.0 v-4.0 M640.90,10.5 v3.5 M664.33,362.0 v-6.8 M664.33,10.5 v6.5 M687.77,362.0 v-4.0 M687.77,10.5 v3.5 M711.20,362.0 v-4.0 M711.20,10.5 v3.5 M734.63,362.0 v-4.0 M734.63,10.5 v3.5 M758.07,362.0 v-4.0 M758.07,10.5 v3.5 M781.50,362.0 v-6.8 M781.50,10.5 v6.5 M78.5,362.00 h6.5 M781.5,362.00 h-6.5 M78.5,344.43 h4.0 M781.5,344.43 h-4.0 M78.5,326.85 h4.0 M781.5,326.85 h-4.0 M78.5,309.27 h4.0 M781.5,309.27 h-4.0 M78.5,291.70 h4.0 M781.5,291.70 h-4.0 M78.5,274.12 h6.5 M781.5,274.12 h-6.5 M78.5,256.55 h4.0 M781.5,256.55 h-4.0 M78.5,238.98 h4.0 M781.5,238.98 h-4.0 M78.5,221.40 h4.0 M781.5,221.40 h-4.0 M78.5,203.83 h4.0 M781.5,203.83 h-4.0 M78.5,186.25 h6.5 M781.5,186.25 h-6.5 M78.5,168.68 h4.0 M781.5,168.68 h-4.0 M78.5,151.10 h4.0 M781.5,151.10 h-4.0 M78.5,133.53 h4.0 M781.5,133.53 h-4.0 M78.5,115.95 h4.0 M781.5,115.95 h-4.0 M78.5,98.38 h6.5 M781.5,98.38 h-6.5 M78.5,80.80 h4.0 M781.5,80.80 h-4.0 M78.5,63.23 h4.0 M781.5,63.23 h-4.0 M78.5,45.65 h4.0 M781.5,45.65 h-4.0 M78.5,28.08 h4.0 M781.5,28.08 h-4.0 M78.5,10.50 h6.5 M781.5,10.50 h-6.5"/></g>
<g class="t"><text transform="translate(78.10,383.80) scale(1.06,1)" font-size="18" fill="#000" text-anchor="middle">0.0</text><text transform="translate(195.27,383.80) scale(1.06,1)" font-size="18" fill="#000" text-anchor="middle">0.5</text><text transform="translate(312.43,383.80) scale(1.06,1)" font-size="18" fill="#000" text-anchor="middle">1.0</text><text transform="translate(429.60,383.80) scale(1.06,1)" font-size="18" fill="#000" text-anchor="middle">1.5</text><text transform="translate(546.77,383.80) scale(1.06,1)" font-size="18" fill="#000" text-anchor="middle">2.0</text><text transform="translate(663.93,383.80) scale(1.06,1)" font-size="18" fill="#000" text-anchor="middle">2.5</text><text transform="translate(781.10,383.80) scale(1.06,1)" font-size="18" fill="#000" text-anchor="middle">3.0</text><text transform="translate(73.70,368.50) scale(1.075,1)" font-size="18" fill="#000" text-anchor="end">0</text><text transform="translate(73.70,280.62) scale(1.075,1)" font-size="18" fill="#000" text-anchor="end">1000</text><text transform="translate(73.70,192.75) scale(1.075,1)" font-size="18" fill="#000" text-anchor="end">2000</text><text transform="translate(73.70,104.88) scale(1.075,1)" font-size="18" fill="#000" text-anchor="end">3000</text><text transform="translate(73.70,17.00) scale(1.075,1)" font-size="18" fill="#000" text-anchor="end">4000</text><text transform="translate(422.80,423.30) scale(1.0,1)" font-size="29.3" fill="#000" text-anchor="start" font-weight="bold">z</text><text transform="translate(0.80,193.50) scale(0.86,1)" font-size="28.7" fill="#000" text-anchor="start" font-weight="bold" font-style="italic">c</text><text transform="translate(14.30,197.60) scale(1.08,1)" font-size="20.5" fill="#000" text-anchor="start" font-weight="bold" font-style="italic">p</text><text transform="translate(202.80,337.50) scale(1.0,1)" font-size="19" fill="#0000ff" text-anchor="start">Local maximum</text><text transform="translate(160.90,293.00) scale(1.0,1)" font-size="19" fill="#000" text-anchor="start" font-style="italic">z</text><text transform="translate(168.30,295.90) scale(1.0,1)" font-size="14" fill="#000" text-anchor="start" font-style="italic">c</text><text transform="translate(175.90,286.30) scale(1.0,1)" font-size="12.4" fill="#000" text-anchor="start">(1)</text><text transform="translate(191.70,296.20) scale(1.0,1)" font-size="19" fill="#000" text-anchor="start">=</text><rect x="205.00" y="287.30" width="30.4" height="1.1" fill="#333"/><text transform="translate(213.90,278.00) scale(1.0,1)" font-size="19" fill="#000" text-anchor="start" font-style="italic">r</text><text transform="translate(221.00,280.80) scale(1.0,1)" font-size="14" fill="#000" text-anchor="start" font-style="italic">h</text><text transform="translate(206.30,309.80) scale(1.0,1)" font-size="19" fill="#000" text-anchor="start" font-style="italic">r</text><text transform="translate(213.40,312.80) scale(1.0,1)" font-size="14" fill="#000" text-anchor="start" font-style="italic">c</text><text transform="translate(220.60,305.00) scale(1.0,1)" font-size="12.4" fill="#000" text-anchor="start">(1)</text><text transform="translate(284.70,293.00) scale(1.0,1)" font-size="19" fill="#000" text-anchor="start" font-style="italic">z</text><text transform="translate(292.10,295.90) scale(1.0,1)" font-size="14" fill="#000" text-anchor="start" font-style="italic">c</text><text transform="translate(299.70,286.30) scale(1.0,1)" font-size="12.4" fill="#000" text-anchor="start">(2)</text><text transform="translate(315.50,296.20) scale(1.0,1)" font-size="19" fill="#000" text-anchor="start">=</text><rect x="328.80" y="287.30" width="30.4" height="1.1" fill="#333"/><text transform="translate(337.70,278.00) scale(1.0,1)" font-size="19" fill="#000" text-anchor="start" font-style="italic">r</text><text transform="translate(344.80,280.80) scale(1.0,1)" font-size="14" fill="#000" text-anchor="start" font-style="italic">h</text><text transform="translate(330.10,309.80) scale(1.0,1)" font-size="19" fill="#000" text-anchor="start" font-style="italic">r</text><text transform="translate(337.20,312.80) scale(1.0,1)" font-size="14" fill="#000" text-anchor="start" font-style="italic">c</text><text transform="translate(344.40,305.00) scale(1.0,1)" font-size="12.4" fill="#000" text-anchor="start">(2)</text><text transform="translate(424.60,293.00) scale(1.0,1)" font-size="19" fill="#000" text-anchor="start" font-style="italic">z</text><text transform="translate(432.00,295.90) scale(1.0,1)" font-size="14" fill="#000" text-anchor="start" font-style="italic">c</text><text transform="translate(439.60,286.30) scale(1.0,1)" font-size="12.4" fill="#000" text-anchor="start">(3)</text><text transform="translate(455.40,296.20) scale(1.0,1)" font-size="19" fill="#000" text-anchor="start">=</text><rect x="468.70" y="287.30" width="30.4" height="1.1" fill="#333"/><text transform="translate(477.60,278.00) scale(1.0,1)" font-size="19" fill="#000" text-anchor="start" font-style="italic">r</text><text transform="translate(484.70,280.80) scale(1.0,1)" font-size="14" fill="#000" text-anchor="start" font-style="italic">h</text><text transform="translate(470.00,309.80) scale(1.0,1)" font-size="19" fill="#000" text-anchor="start" font-style="italic">r</text><text transform="translate(477.10,312.80) scale(1.0,1)" font-size="14" fill="#000" text-anchor="start" font-style="italic">c</text><text transform="translate(484.30,305.00) scale(1.0,1)" font-size="12.4" fill="#000" text-anchor="start">(3)</text></g></svg>
</div></body></html>
